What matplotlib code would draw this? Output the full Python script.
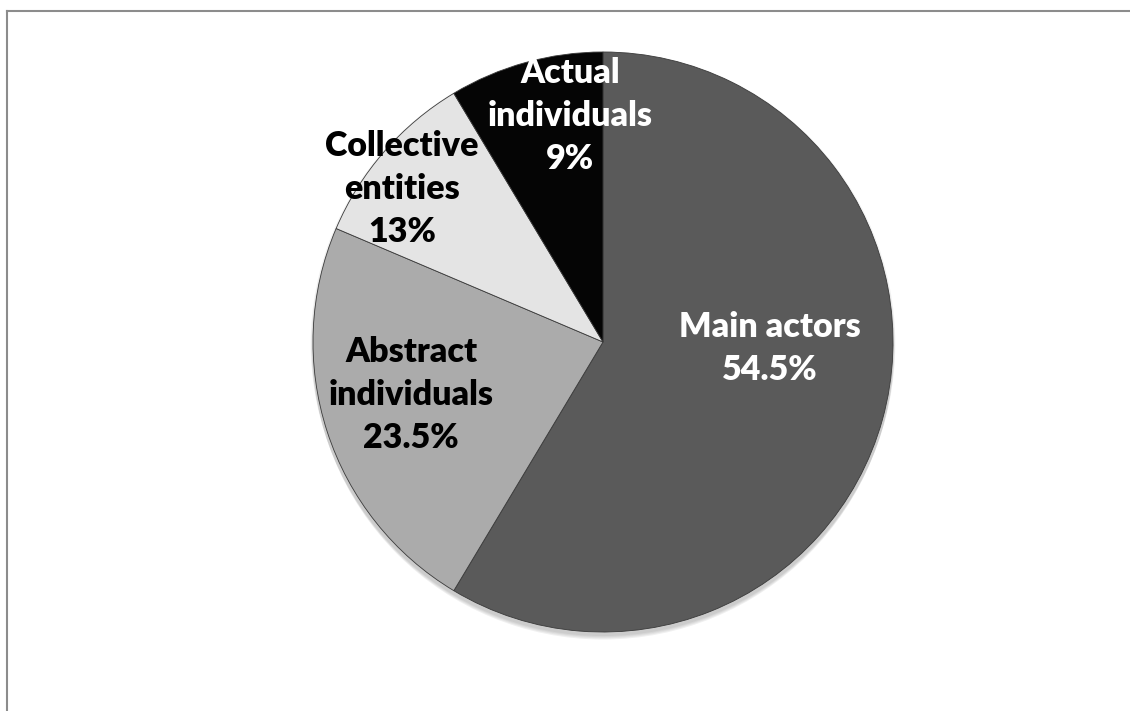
import matplotlib
matplotlib.use("Agg")
import matplotlib.pyplot as plt
from matplotlib.lines import Line2D
from matplotlib.patches import Circle

categories = ["Main actors", "Abstract individuals", "Collective entities", "Actual individuals"]
values = [58.6, 22.8, 10.0, 8.6]
label_texts = ["Main actors\n54.5%", "Abstract\nindividuals\n23.5%",
               "Collective\nentities\n13%", "Actual\nindividuals\n9%"]
colors = ["#5a5a5a", "#ababab", "#e4e4e4", "#050505"]
text_colors = ["white", "black", "black", "white"]
label_pos = [(0.576, -0.021), (-0.662, -0.183), (-0.693, 0.528), (-0.114, 0.779)]

W, H = 1130, 711
fig = plt.figure(figsize=(W / 100, H / 100), dpi=100)
fig.patch.set_facecolor("white")

cx, cy, r = 603, 342, 290
ax = fig.add_axes([(cx - r) / W, (H - cy - r) / H, 2 * r / W, 2 * r / H])

# soft drop shadow
for i, a in enumerate([0.05, 0.05, 0.05, 0.06]):
    off = 0.004 * (i + 1)
    ax.add_patch(Circle((0, -off * 1.5), 1.0 + 0.002 * (4 - i), color="black",
                        alpha=a, lw=0, zorder=0, clip_on=False))

wedges, _ = ax.pie(values, colors=colors, startangle=90, counterclock=False,
                   radius=1.0,
                   wedgeprops=dict(edgecolor="#3a3a3a", linewidth=0.6, zorder=2))
ax.set_xlim(-1, 1)
ax.set_ylim(-1, 1)
ax.set_aspect("equal")
ax.axis("off")

for txt, (x, y), tc in zip(label_texts, label_pos, text_colors):
    ax.text(x, y, txt, ha="center", va="center", color=tc,
            fontsize=24.5, fontweight="heavy", family=["Lato", "DejaVu Sans"],
            linespacing=1.42, zorder=5)

# partial frame: top and left lines
fig.add_artist(Line2D([7 / W, 1.0], [1 - 11 / H, 1 - 11 / H], color="#8c8c8c", lw=1.5))
fig.add_artist(Line2D([7 / W, 7 / W], [0.0, 1 - 11 / H], color="#8c8c8c", lw=1.5))

fig.savefig("out.png", dpi=100, facecolor="white")
